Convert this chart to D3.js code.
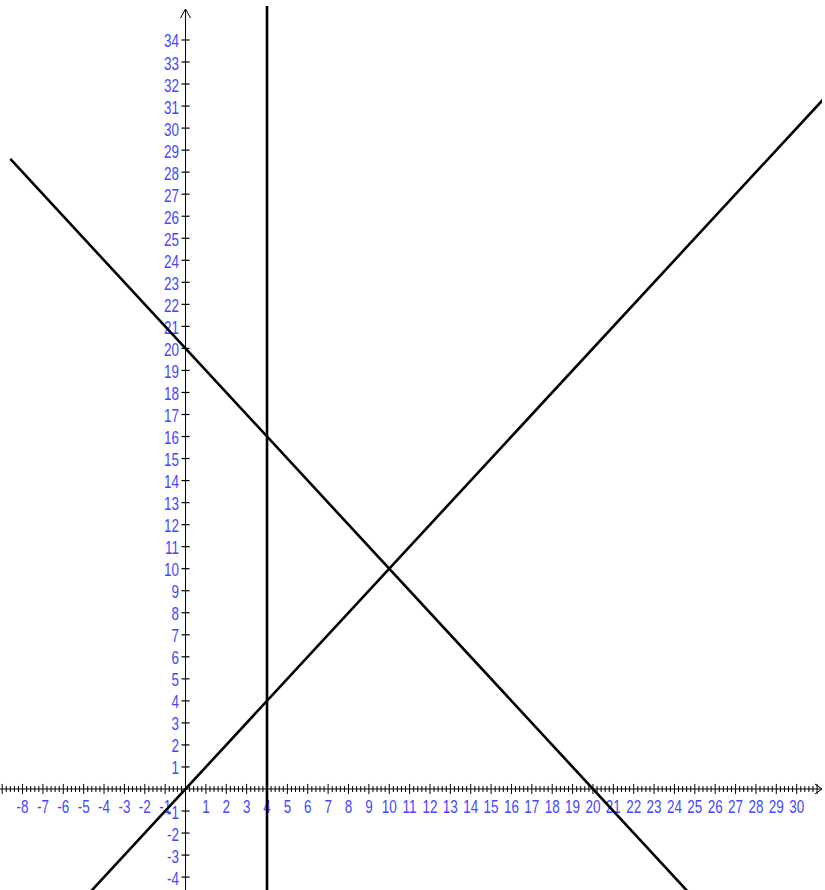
<!DOCTYPE html>
<html lang="en">
<head>
<meta charset="UTF-8">
<title>lines</title>
<script src="https://d3js.org/d3.v7.min.js"></script>
<style>
  body { margin: 0; background: #fff; }
  text { font-family: "Liberation Sans", Arial, sans-serif; }
</style>
</head>
<body>
<div id="chart"></div>
<script>
// tick labels
const xTicks = d3.range(-8, 31).filter(d => d !== 0);
const yTicks = d3.range(-4, 35).filter(d => d !== 0);
// the three lines, as two points each in graph units
const lineNames = ["y = x", "y = 20 - x", "x = 4"];
const linePoints = [
  [[-6, -6], [33, 33]],
  [[-8.6, 28.6], [26, -6]],
  [[4, -6], [4, 37]]
];

const W = 825, H = 890;
const x = d3.scaleLinear().domain([-9.107, 31.39]).range([0, W]);
const y = d3.scaleLinear().domain([-4.585, 35.815]).range([H, 0]);
const blue = "#4646ff";
const squeeze = 0.77;

const svg = d3.select("#chart").append("svg")
  .attr("width", W).attr("height", H);

// x axis
const x0 = y(0), y0 = x(0);
svg.append("line").attr("x1", 0).attr("x2", 822).attr("y1", x0).attr("y2", x0)
  .attr("stroke", "#000").attr("stroke-width", 1);
svg.append("path").attr("d", `M${815},${x0 - 5}L${822},${x0}L${815},${x0 + 5}`)
  .attr("fill", "none").attr("stroke", "#000").attr("stroke-width", 1);

const minor = d3.range(-9, 31.2, 0.2).filter(v => Math.abs(v - Math.round(v)) > 0.01);
svg.append("g").selectAll("line").data(minor).join("line")
  .attr("x1", d => x(d)).attr("x2", d => x(d))
  .attr("y1", x0 - 3).attr("y2", x0 + 3)
  .attr("stroke", "#000").attr("stroke-width", 1);
svg.append("g").selectAll("line").data(d3.range(-9, 32)).join("line")
  .attr("x1", d => x(d)).attr("x2", d => x(d))
  .attr("y1", x0 - 5).attr("y2", x0 + 5)
  .attr("stroke", "#000").attr("stroke-width", 1);
svg.append("g").selectAll("text").data(xTicks).join("text")
  .attr("transform", d => `translate(${x(d)},${x0 + 24}) scale(${squeeze},1)`)
  .attr("text-anchor", "middle").attr("fill", blue)
  .attr("font-size", 17.5)
  .text(d => d);

// y axis
svg.append("line").attr("x1", y0).attr("x2", y0).attr("y1", 9).attr("y2", H)
  .attr("stroke", "#000").attr("stroke-width", 1);
svg.append("path").attr("d", `M${y0 - 5},${18}L${y0},${9}L${y0 + 5},${18}`)
  .attr("fill", "none").attr("stroke", "#000").attr("stroke-width", 1);
svg.append("g").selectAll("line").data(yTicks).join("line")
  .attr("x1", y0 - 4).attr("x2", y0 + 4)
  .attr("y1", d => y(d)).attr("y2", d => y(d))
  .attr("stroke", "#000").attr("stroke-width", 1.2);
svg.append("g").selectAll("text").data(yTicks).join("text")
  .attr("transform", d => `translate(${y0 - 6.5},${y(d) + 7.5}) scale(${squeeze},1)`)
  .attr("text-anchor", "end").attr("fill", blue)
  .attr("font-size", 17.5)
  .text(d => d);

// lines
const line = d3.line().x(d => x(d[0])).y(d => y(d[1]));
svg.append("clipPath").attr("id", "clip").append("rect")
  .attr("x", 0).attr("y", 6).attr("width", 822).attr("height", H);
svg.append("g").attr("clip-path", "url(#clip)")
  .selectAll("path").data(linePoints).join("path")
  .attr("d", line)
  .attr("fill", "none").attr("stroke", "#000").attr("stroke-width", 2.6);
</script>
</body>
</html>
